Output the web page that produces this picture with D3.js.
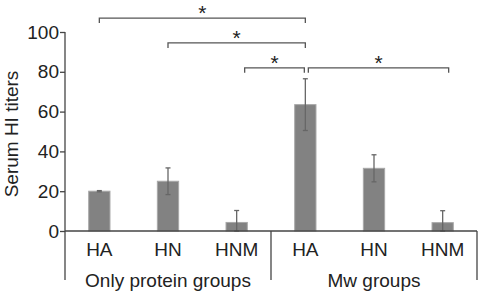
<!DOCTYPE html>
<html>
<head>
<meta charset="utf-8">
<script src="https://d3js.org/d3.v7.min.js"></script>
<style>
  body { margin: 0; background: #fff; }
  text { font-family: "Liberation Sans", Arial, sans-serif; fill: #222; }
</style>
</head>
<body>
<div id="chart"></div>
<script>
// data
var categories = ["HA", "HN", "HNM", "HA", "HN", "HNM"];
var means = [20, 25, 4.3, 63.5, 31.5, 4.2];
var errors = [0.3, 6.7, 6, 13, 6.8, 6];
var groups = ["Only protein groups", "Mw groups"];
var yTicks = [0, 20, 40, 60, 80, 100];
// significance brackets: [from bar, to bar, height in titer units]
var brackets = [[0, 3, 107], [1, 3, 94.5], [2, 3, 82], [3, 5, 82]];

var width = 483, height = 294;
var margin = {left: 65, right: 6, top: 32, bottom: 63};

var svg = d3.select("#chart").append("svg")
    .attr("width", width).attr("height", height);

// scaling
var xScale = d3.scaleBand()
    .domain(d3.range(categories.length))
    .range([margin.left, width - margin.right])
    .paddingInner(0.69)
    .paddingOuter(0.345);

var yScale = d3.scaleLinear()
    .domain([0, 100])
    .range([height - margin.bottom, margin.top]);

var y0 = yScale(0);
var bottomY = 280;

// bars
svg.selectAll(".bar")
    .data(means).enter().append("rect")
    .attr("class", "bar")
    .attr("x", function(d, i) { return xScale(i); })
    .attr("y", function(d) { return yScale(d); })
    .attr("width", xScale.bandwidth())
    .attr("height", function(d) { return y0 - yScale(d); })
    .attr("fill", "#828282")
    .attr("stroke", "#a8a8a8")
    .attr("stroke-width", 1);

// error bars
var err = svg.append("g").attr("stroke", "#666").attr("stroke-width", 1.3);
means.forEach(function(m, i) {
  var cx = xScale(i) + xScale.bandwidth() / 2;
  var top = yScale(m + errors[i]);
  var bot = yScale(Math.max(0, m - errors[i]));
  err.append("line").attr("x1", cx).attr("x2", cx).attr("y1", top).attr("y2", bot);
  err.append("line").attr("x1", cx - 2.5).attr("x2", cx + 2.5).attr("y1", top).attr("y2", top);
  err.append("line").attr("x1", cx - 2.5).attr("x2", cx + 2.5).attr("y1", bot).attr("y2", bot);
});

// y axis
var yAxis = d3.axisLeft(yScale).tickValues(yTicks).tickSize(5).tickPadding(1);
var gy = svg.append("g")
    .attr("transform", "translate(" + [margin.left, 0] + ")")
    .call(yAxis);
gy.select(".domain").remove();
gy.selectAll("line").attr("stroke", "#444").attr("stroke-width", 1.3);
gy.selectAll("text").style("font-size", "19px").attr("fill", "#222");

var axisG = svg.append("g").attr("stroke", "#444").attr("stroke-width", 1.3).attr("fill", "none");
// vertical axis from 100 down to the bottom of the group labels
axisG.append("line")
    .attr("x1", margin.left).attr("x2", margin.left)
    .attr("y1", yScale(100)).attr("y2", bottomY);
// x axis line
axisG.append("line")
    .attr("x1", margin.left).attr("x2", width - margin.right)
    .attr("y1", y0).attr("y2", y0);
// group dividers
var divX = xScale(3) - xScale.step() * xScale.paddingInner() / 2;
axisG.append("line").attr("x1", divX).attr("x2", divX).attr("y1", y0).attr("y2", bottomY);
axisG.append("line").attr("x1", width - margin.right).attr("x2", width - margin.right)
    .attr("y1", y0).attr("y2", bottomY);

// category labels
svg.selectAll(".cat")
    .data(categories).enter().append("text")
    .attr("class", "cat")
    .attr("x", function(d, i) { return xScale(i) + xScale.bandwidth() / 2; })
    .attr("y", 256)
    .attr("text-anchor", "middle")
    .style("font-size", "19px")
    .text(function(d) { return d; });

// group labels
var groupCenters = [(margin.left + divX) / 2, (divX + width - margin.right) / 2];
svg.selectAll(".grp")
    .data(groups).enter().append("text")
    .attr("class", "grp")
    .attr("x", function(d, i) { return groupCenters[i]; })
    .attr("y", 287)
    .attr("text-anchor", "middle")
    .style("font-size", "19px")
    .text(function(d) { return d; });

// y label
svg.append("text")
    .attr("text-anchor", "middle")
    .attr("transform", "translate(" + [18, 134] + ") rotate(-90)")
    .style("font-size", "19px")
    .text("Serum HI titers");

// significance brackets
var br = svg.append("g");
brackets.forEach(function(b, k) {
  var x1 = xScale(b[0]) + xScale.bandwidth() / 2;
  var x2 = xScale(b[1]) + xScale.bandwidth() / 2;
  if (k == 2) x2 -= 1;
  if (k == 3) { x1 += 3; x2 += 6; }
  if (k == 2) x1 += 8;
  var by = yScale(b[2]);
  br.append("path")
      .attr("d", "M" + x1 + "," + (by + 5) + "V" + by + "H" + x2 + "V" + (by + 5))
      .attr("fill", "none")
      .attr("stroke", "#555")
      .attr("stroke-width", 1.3);
  br.append("text")
      .attr("x", (x1 + x2) / 2)
      .attr("y", by + 2)
      .attr("text-anchor", "middle")
      .style("font-size", "21px")
      .text("*");
});
</script>
</body>
</html>
